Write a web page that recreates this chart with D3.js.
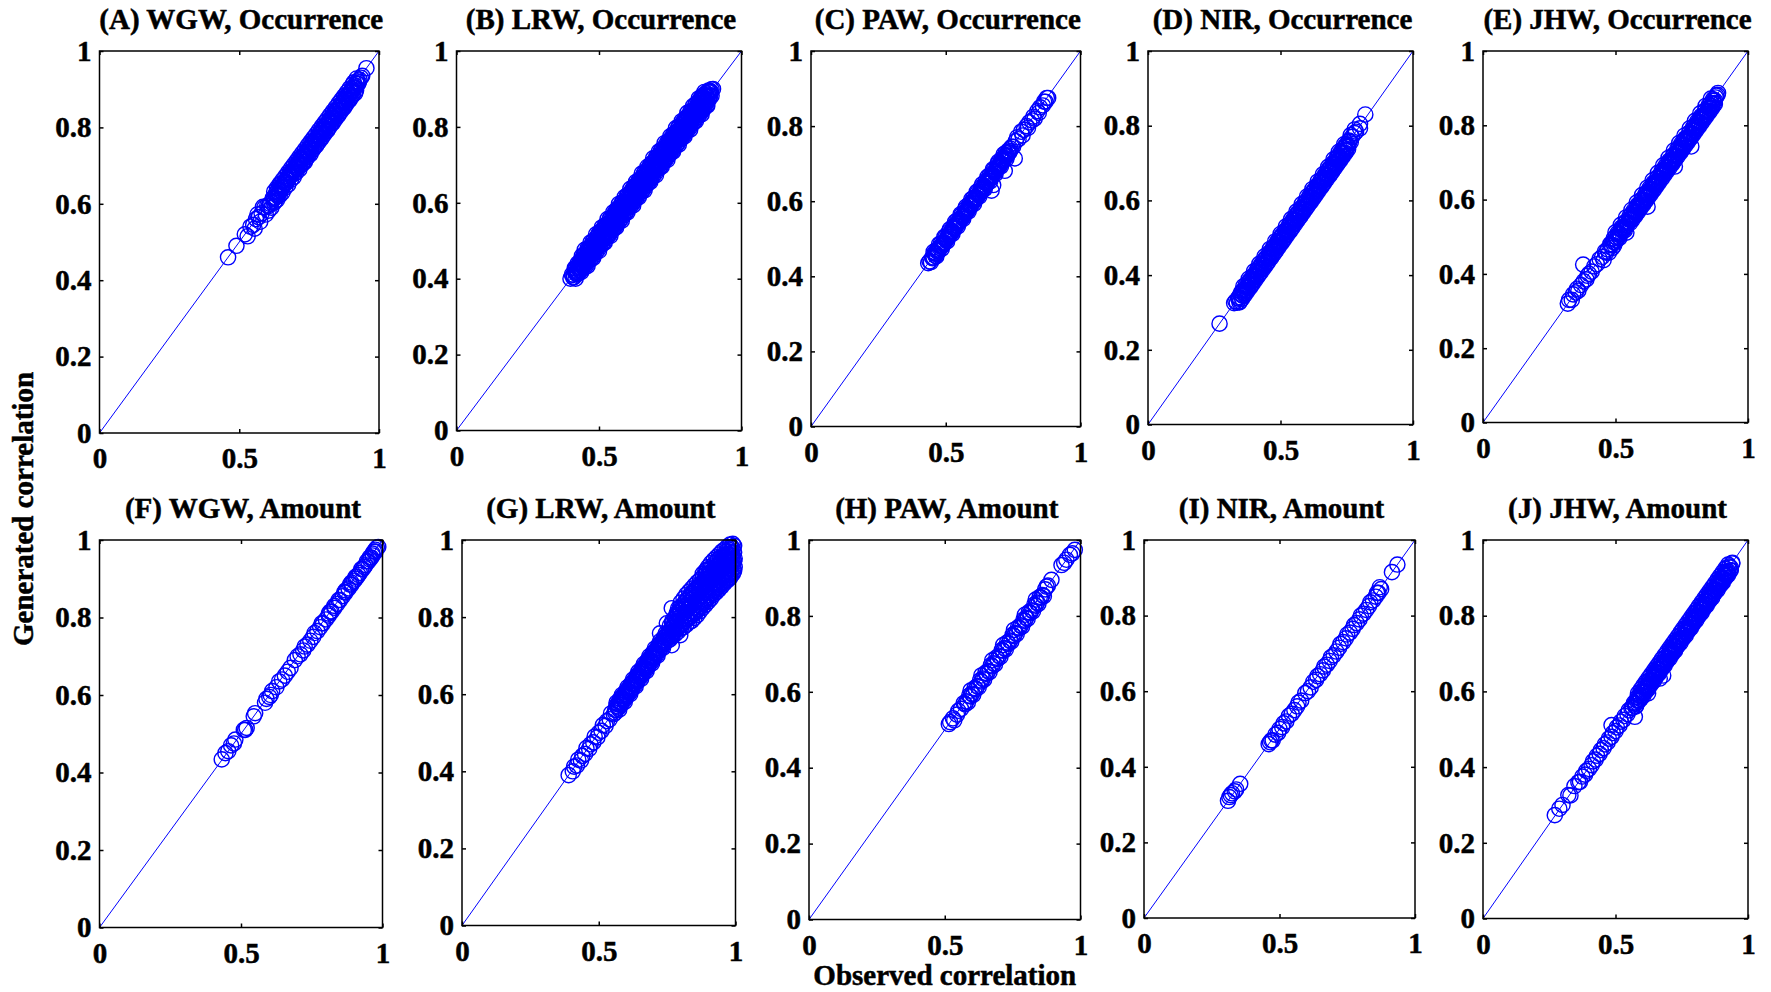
<!DOCTYPE html>
<html>
<head>
<meta charset="utf-8">
<script src="https://cdn.jsdelivr.net/npm/d3@7"></script>
<style>
  html, body { margin: 0; padding: 0; background: #fff; }
  svg { display: block; }
</style>
</head>
<body>
<svg id="fig" width="1771" height="992"></svg>
<script>
// ---- tick values and labels ----
const xTicks = [0, 0.5, 1];
const xTickLabels = ["0", "0.5", "1"];
const yTicks = [0, 0.2, 0.4, 0.6, 0.8, 1];
const yTickLabels = ["0", "0.2", "0.4", "0.6", "0.8", "1"];

const panelTitles = [
  "(A) WGW, Occurrence", "(B) LRW, Occurrence", "(C) PAW, Occurrence",
  "(D) NIR, Occurrence", "(E) JHW, Occurrence",
  "(F) WGW, Amount", "(G) LRW, Amount", "(H) PAW, Amount",
  "(I) NIR, Amount", "(J) JHW, Amount"
];
const xAxisTitle = "Observed correlation";
const yAxisTitle = "Generated correlation";

// ---- [observed, generated] correlation pairs ----
const occWGW = [
  [.46,.46],[.49,.49],[.52,.52],[.53,.515],
  [.54,.54],[.55,.545],[.56,.56],[.57,.565],[.58,.575],[.59,.59],[.60,.595],[.61,.60],[.62,.615],[.63,.625],
  [.64,.64],[.65,.645],[.66,.655],[.67,.665],[.68,.68],[.69,.685],[.70,.695],[.71,.705],[.72,.72],[.73,.725],
  [.74,.735],[.75,.745],[.76,.76],[.77,.765],[.78,.775],[.79,.785],[.80,.80],[.81,.805],[.82,.815],[.83,.825],
  [.84,.84],[.85,.845],[.86,.855],[.87,.865],[.88,.88],[.89,.885],[.90,.895],[.91,.905],[.92,.915],[.93,.925],
  [.555,.535],[.575,.553],[.595,.572],[.605,.582],[.615,.59],[.625,.603],[.635,.61],[.645,.622],[.655,.63],
  [.665,.643],[.675,.65],[.685,.663],[.695,.67],[.705,.683],[.715,.69],[.725,.703],[.735,.71],[.745,.723],
  [.755,.73],[.765,.743],[.775,.752],[.785,.763],[.795,.772],[.805,.783],[.815,.792],[.825,.803],[.835,.812],
  [.845,.823],[.855,.832],[.865,.843],[.875,.852],[.885,.863],[.895,.872],[.905,.883],[.915,.89],
  [.565,.572],[.585,.592],[.625,.632],[.645,.652],[.665,.672],[.685,.692],[.705,.712],[.725,.732],[.745,.752],
  [.765,.772],[.785,.792],[.805,.812],[.825,.832],[.845,.852],[.865,.872],[.885,.892],[.905,.912],[.92,.928],
  [.605,.594],[.615,.604],[.625,.614],[.635,.624],[.645,.634],[.655,.644],[.665,.654],[.675,.664],[.685,.674],
  [.695,.684],[.705,.694],[.715,.704],[.725,.714],[.735,.724],[.745,.734],[.755,.744],[.765,.754],[.775,.764],
  [.785,.774],[.795,.784],[.805,.794],[.815,.804],[.825,.814],[.835,.824],[.845,.834],[.855,.844],[.865,.854],
  [.875,.864],[.885,.874],[.895,.884],[.905,.894],[.915,.904],[.925,.914],
  [.635,.642],[.655,.662],[.675,.682],[.695,.702],[.715,.722],[.735,.742],[.755,.762],[.775,.782],[.795,.802],
  [.815,.822],[.835,.842],[.855,.862],[.875,.882],[.895,.902],[.91,.918],
  [.623,.612],[.628,.607],[.633,.63],[.638,.62],[.643,.628],[.648,.651],[.653,.64],[.658,.648],[.663,.661],
  [.668,.655],[.673,.668],[.678,.671],[.683,.676],[.688,.68],[.693,.69],[.698,.679],[.703,.701],[.708,.692],
  [.713,.71],[.718,.70],[.723,.721],[.728,.709],[.733,.73],[.738,.717],[.743,.741],[.748,.729],[.753,.75],
  [.758,.738],[.763,.761],[.768,.749],[.773,.77],[.778,.757],[.783,.781],[.788,.769],[.793,.79],[.798,.777],
  [.803,.801],[.808,.789],[.813,.81],[.818,.797],[.823,.821],[.828,.809],[.833,.83],[.838,.817],[.843,.841],
  [.848,.829],[.853,.85],[.858,.837],[.863,.861],[.868,.849],[.873,.87],[.878,.857],[.883,.881],[.888,.869],
  [.893,.89],[.898,.877],[.903,.901],[.908,.889],[.913,.91],[.918,.897],[.923,.921],[.928,.918],
  [.935,.93],[.94,.935],[.955,.955]
];

const occLRW = [
  [.40,.40],[.41,.41],[.42,.418],[.43,.43],[.44,.442],[.45,.448],[.46,.46],[.47,.472],[.48,.478],[.49,.49],
  [.50,.502],[.51,.508],[.52,.52],[.53,.532],[.54,.538],[.55,.55],[.56,.562],[.57,.568],[.58,.58],[.59,.592],
  [.60,.598],[.61,.61],[.62,.622],[.63,.628],[.64,.64],[.65,.652],[.66,.658],[.67,.67],[.68,.682],[.69,.688],
  [.70,.70],[.71,.712],[.72,.718],[.73,.73],[.74,.742],[.75,.748],[.76,.76],[.77,.772],[.78,.778],[.79,.79],
  [.80,.802],[.81,.808],[.82,.82],[.83,.832],[.84,.838],[.85,.85],[.86,.862],[.87,.868],[.88,.88],[.89,.892],[.90,.90],
  [.415,.428],[.425,.44],[.435,.447],[.445,.459],[.455,.469],[.465,.478],[.475,.489],[.485,.497],[.495,.509],
  [.505,.519],[.515,.528],[.525,.539],[.535,.547],[.545,.559],[.555,.569],[.565,.578],[.575,.589],[.585,.597],
  [.595,.609],[.605,.619],[.615,.628],[.625,.639],[.635,.647],[.645,.659],[.655,.669],[.665,.678],[.675,.689],
  [.685,.697],[.695,.709],[.705,.719],[.715,.728],[.725,.739],[.735,.747],[.745,.759],[.755,.769],[.765,.778],
  [.775,.789],[.785,.797],[.795,.809],[.805,.819],[.815,.828],[.825,.839],[.835,.847],[.845,.859],[.855,.869],
  [.865,.878],[.875,.889],[.885,.896],
  [.425,.412],[.435,.421],[.445,.433],[.455,.441],[.465,.452],[.475,.463],[.485,.471],[.495,.483],[.505,.491],
  [.515,.502],[.525,.513],[.535,.521],[.545,.533],[.555,.541],[.565,.552],[.575,.563],[.585,.571],[.595,.583],
  [.605,.591],[.615,.602],[.625,.613],[.635,.621],[.645,.633],[.655,.641],[.665,.652],[.675,.663],[.685,.671],
  [.695,.683],[.705,.691],[.715,.702],[.725,.713],[.735,.721],[.745,.733],[.755,.741],[.765,.752],[.775,.763],
  [.785,.771],[.795,.783],[.805,.791],[.815,.802],[.825,.813],[.835,.821],[.845,.833],[.855,.841],[.865,.852],
  [.875,.863],[.885,.871],[.895,.882],
  [.45,.476],[.47,.495],[.49,.517],[.51,.535],[.53,.557],[.55,.575],[.57,.597],[.59,.615],[.61,.637],[.63,.655],
  [.65,.677],[.67,.695],[.69,.717],[.71,.735],[.73,.757],[.75,.775],[.77,.797],[.79,.815],[.81,.837],[.83,.855],
  [.85,.875],[.87,.892],
  [.46,.434],[.48,.455],[.50,.473],[.52,.495],[.54,.513],[.56,.535],[.58,.553],[.60,.575],[.62,.593],[.64,.615],
  [.66,.633],[.68,.655],[.70,.673],[.72,.695],[.74,.713],[.76,.735],[.78,.753],[.80,.775],[.82,.793],[.84,.815],
  [.86,.833],[.88,.856],
  [.405,.411],[.415,.421],[.425,.431],[.435,.441],[.445,.451],[.455,.461],[.465,.471],[.475,.481],[.485,.491],
  [.495,.501],[.505,.511],[.515,.521],[.525,.531],[.535,.541],[.545,.551],[.555,.561],[.565,.571],[.575,.581],
  [.585,.591],[.595,.601],[.605,.611],[.615,.621],[.625,.631],[.635,.641],[.645,.651],[.655,.661],[.665,.671],
  [.675,.681],[.685,.691],[.695,.701],[.705,.711],[.715,.721],[.725,.731],[.735,.741],[.745,.751],[.755,.761],
  [.765,.771],[.775,.781],[.785,.791],[.795,.801],[.805,.811],[.815,.821],[.825,.831],[.835,.841],[.845,.851],
  [.855,.861],[.865,.871],[.875,.881],[.885,.891],[.895,.899],
  [.41,.403],[.42,.413],[.43,.423],[.44,.433],[.45,.443],[.46,.453],[.47,.463],[.48,.473],[.49,.483],[.50,.493],
  [.51,.503],[.52,.513],[.53,.523],[.54,.533],[.55,.543],[.56,.553],[.57,.563],[.58,.573],[.59,.583],[.60,.593],
  [.61,.603],[.62,.613],[.63,.623],[.64,.633],[.65,.643],[.66,.653],[.67,.663],[.68,.673],[.69,.683],[.70,.693],
  [.71,.703],[.72,.713],[.73,.723],[.74,.733],[.75,.743],[.76,.753],[.77,.763],[.78,.773],[.79,.783],[.80,.793],
  [.81,.803],[.82,.813],[.83,.823],[.84,.833],[.85,.843],[.86,.853],[.87,.863],[.88,.873],[.89,.883],
  [.44,.46],[.46,.48],[.48,.50],[.50,.52],[.52,.54],[.54,.56],[.56,.58],[.58,.60],[.60,.62],[.62,.64],[.64,.66],
  [.66,.68],[.68,.70],[.70,.72],[.72,.74],[.74,.76],[.76,.78],[.78,.80],[.80,.82],[.82,.84],[.84,.86],[.86,.88],
  [.45,.43],[.47,.45],[.49,.47],[.51,.49],[.53,.51],[.55,.53],[.57,.55],[.59,.57],[.61,.59],[.63,.61],[.65,.63],
  [.67,.65],[.69,.67],[.71,.69],[.73,.71],[.75,.73],[.77,.75],[.79,.77],[.81,.79],[.83,.81],[.85,.83],[.87,.85],
  [.413,.405],[.417,.427],[.423,.421],[.427,.414],[.433,.444],[.437,.437],[.443,.431],[.447,.463],[.453,.45],
  [.457,.446],[.463,.478],[.467,.462],[.473,.467],[.477,.496],[.483,.481],[.487,.476],[.493,.511],[.497,.494],
  [.503,.487],[.507,.526],[.513,.51],[.517,.505],[.523,.541],[.527,.525],[.533,.516],[.537,.556],[.543,.54],
  [.547,.535],[.553,.571],[.557,.555],[.563,.545],[.567,.586],[.573,.571],[.577,.565],[.583,.601],[.587,.585],
  [.593,.575],[.597,.616],[.603,.60],[.607,.594],[.613,.631],[.617,.615],[.623,.604],[.627,.646],[.633,.63],
  [.637,.624],[.643,.661],[.647,.645],[.653,.634],[.657,.676],[.663,.66],[.667,.654],[.673,.691],[.677,.675],
  [.683,.664],[.687,.706],[.693,.69],[.697,.684],[.703,.721],[.707,.705],[.713,.694],[.717,.736],[.723,.72],
  [.727,.714],[.733,.751],[.737,.735],[.743,.724],[.747,.766],[.753,.75],[.757,.744],[.763,.781],[.767,.765],
  [.773,.754],[.777,.796],[.783,.78],[.787,.774],[.793,.811],[.797,.795],[.803,.784],[.807,.826],[.813,.81],
  [.817,.804],[.823,.841],[.827,.825],[.833,.814],[.837,.856],[.843,.84],[.847,.834],[.853,.871],[.857,.855],
  [.863,.844],[.867,.884],[.873,.87],[.877,.864],[.883,.885],[.887,.878],[.893,.893],
  [.418,.40],[.428,.434],[.438,.418],[.448,.454],[.458,.438],[.468,.475],[.478,.458],[.488,.495],[.498,.478],
  [.508,.515],[.518,.498],[.528,.536],[.538,.518],[.548,.556],[.558,.538],[.568,.576],[.578,.558],[.588,.597],
  [.598,.578],[.608,.616],[.618,.598],[.628,.637],[.638,.618],[.648,.656],[.658,.638],[.668,.677],[.678,.658],
  [.688,.696],[.698,.678],[.708,.717],[.718,.698],[.728,.736],[.738,.718],[.748,.757],[.758,.738],[.768,.776],
  [.778,.758],[.788,.797],[.798,.778],[.808,.816],[.818,.798],[.828,.837],[.838,.818],[.848,.856],[.858,.838],
  [.868,.877],[.878,.858],[.888,.895]
];

const occPAW = [
  [.435,.435],[.44,.44],[.445,.438],[.45,.45],
  [.46,.46],[.47,.468],[.48,.48],[.49,.49],[.50,.498],[.51,.51],[.52,.52],[.53,.528],[.54,.54],[.55,.55],
  [.56,.558],[.57,.57],[.58,.58],[.59,.588],[.60,.60],[.61,.61],[.62,.618],[.63,.63],[.64,.64],[.65,.648],
  [.66,.66],[.67,.67],[.68,.678],[.69,.69],[.70,.70],[.71,.708],[.72,.72],[.73,.73],
  [.455,.465],[.475,.485],[.495,.505],[.515,.525],[.535,.545],[.555,.565],[.575,.585],[.595,.605],[.615,.625],
  [.635,.645],[.655,.665],[.675,.685],[.695,.705],[.715,.725],
  [.465,.453],[.485,.473],[.505,.493],[.525,.513],[.545,.533],[.565,.553],[.585,.573],[.605,.593],[.625,.613],
  [.645,.633],[.665,.653],[.685,.673],[.705,.693],[.725,.713],
  [.455,.45],[.465,.46],[.475,.47],[.485,.48],[.495,.49],[.505,.50],[.515,.51],[.525,.52],[.535,.53],[.545,.54],
  [.555,.55],[.565,.56],[.575,.57],[.585,.58],[.595,.59],[.605,.60],[.615,.61],[.625,.62],[.635,.63],[.645,.64],
  [.655,.65],[.665,.66],[.675,.67],[.685,.68],[.695,.69],[.705,.70],[.715,.71],[.725,.72],[.735,.73],[.745,.745],
  [.452,.448],[.458,.462],[.462,.455],[.468,.472],[.472,.466],[.478,.475],[.482,.488],[.488,.482],[.492,.487],
  [.498,.503],[.502,.496],[.508,.505],[.512,.518],[.518,.512],[.522,.517],[.528,.533],[.532,.526],[.538,.535],
  [.542,.548],[.548,.542],[.552,.547],[.558,.563],[.562,.556],[.568,.565],[.572,.578],[.578,.572],[.582,.577],
  [.588,.593],[.592,.586],[.598,.595],[.602,.608],[.608,.602],[.612,.607],[.618,.623],[.622,.616],[.628,.625],
  [.632,.638],[.638,.632],[.642,.637],[.648,.653],[.652,.646],[.658,.655],[.662,.668],[.668,.662],[.672,.667],
  [.678,.683],[.682,.676],[.688,.685],[.692,.698],[.698,.692],[.702,.697],[.708,.713],[.712,.706],[.718,.715],
  [.722,.728],[.728,.722],[.732,.735],[.738,.733],
  [.74,.74],[.75,.745],[.76,.76],[.765,.77],[.77,.765],[.78,.785],[.785,.775],[.79,.79],[.80,.80],[.805,.795],
  [.81,.81],[.82,.815],[.825,.825],[.83,.82],[.84,.84],[.845,.835],[.85,.85],[.86,.855],[.865,.865],[.87,.865],
  [.875,.875],[.88,.875],
  [.67,.628],[.676,.643],[.719,.681],[.756,.714]
];

const occNIR = [
  [.27,.27],
  [.325,.325],[.33,.33],[.34,.338],[.35,.35],[.36,.36],[.37,.368],[.38,.38],[.39,.39],[.40,.398],[.41,.41],
  [.42,.42],[.43,.428],[.44,.44],[.45,.45],[.46,.458],[.47,.47],[.48,.48],[.49,.488],[.50,.50],[.51,.51],
  [.52,.518],[.53,.53],[.54,.54],[.55,.548],[.56,.56],[.57,.57],[.58,.578],[.59,.59],[.60,.60],[.61,.608],
  [.62,.62],[.63,.63],[.64,.638],[.65,.65],[.66,.66],[.67,.668],[.68,.68],[.69,.69],[.70,.698],[.71,.71],
  [.72,.72],[.73,.728],[.74,.74],[.75,.75],[.76,.758],[.77,.77],[.78,.78],
  [.345,.327],[.355,.337],[.365,.347],[.375,.357],[.385,.367],[.395,.377],[.405,.387],[.415,.397],[.425,.407],
  [.435,.417],[.445,.427],[.455,.437],[.465,.447],[.475,.457],[.485,.467],[.495,.477],[.505,.487],[.515,.497],
  [.525,.507],[.535,.517],[.545,.527],[.555,.537],[.565,.547],[.575,.557],[.585,.567],[.595,.577],[.605,.587],
  [.615,.597],[.625,.607],[.635,.617],[.645,.627],[.655,.637],[.665,.647],[.675,.657],[.685,.667],[.695,.677],
  [.705,.687],[.715,.697],[.725,.707],[.735,.717],[.745,.727],[.755,.737],
  [.36,.37],[.38,.39],[.40,.41],[.42,.43],[.44,.45],[.46,.47],[.48,.49],[.50,.51],[.52,.53],[.54,.55],
  [.56,.57],[.58,.59],[.60,.61],[.62,.63],[.64,.65],[.66,.67],[.68,.69],[.70,.71],[.72,.73],[.74,.75],
  [.335,.326],[.345,.336],[.355,.346],[.365,.356],[.375,.366],[.385,.376],[.395,.386],[.405,.396],[.415,.406],
  [.425,.416],[.435,.426],[.445,.436],[.455,.446],[.465,.456],[.475,.466],[.485,.476],[.495,.486],[.505,.496],
  [.515,.506],[.525,.516],[.535,.526],[.545,.536],[.555,.546],[.565,.556],[.575,.566],[.585,.576],[.595,.586],
  [.605,.596],[.615,.606],[.625,.616],[.635,.626],[.645,.636],[.655,.646],[.665,.656],[.675,.666],[.685,.676],
  [.695,.686],[.705,.696],[.715,.706],[.725,.716],[.735,.726],[.745,.736],[.755,.746],[.765,.756],
  [.343,.341],[.348,.33],[.353,.355],[.358,.345],[.363,.352],[.368,.372],[.373,.36],[.378,.368],[.383,.385],
  [.388,.372],[.393,.383],[.398,.40],[.403,.39],[.408,.398],[.413,.416],[.418,.402],[.423,.413],[.428,.43],
  [.433,.42],[.438,.428],[.443,.445],[.448,.432],[.453,.443],[.458,.46],[.463,.45],[.468,.458],[.473,.475],
  [.478,.462],[.483,.473],[.488,.49],[.493,.48],[.498,.488],[.503,.505],[.508,.492],[.513,.503],[.518,.52],
  [.523,.51],[.528,.518],[.533,.535],[.538,.522],[.543,.533],[.548,.55],[.553,.54],[.558,.548],[.563,.565],
  [.568,.552],[.573,.563],[.578,.58],[.583,.57],[.588,.578],[.593,.595],[.598,.582],[.603,.593],[.608,.61],
  [.613,.60],[.618,.608],[.623,.625],[.628,.612],[.633,.623],[.638,.64],[.643,.63],[.648,.638],[.653,.655],
  [.658,.642],[.663,.653],[.668,.67],[.673,.66],[.678,.668],[.683,.685],[.688,.672],[.693,.683],[.698,.70],
  [.703,.69],[.708,.698],[.713,.715],[.718,.702],[.723,.713],[.728,.73],[.733,.72],[.738,.728],[.743,.745],
  [.748,.732],[.753,.743],[.758,.76],
  [.765,.775],[.78,.79],[.785,.784],[.80,.793],[.80,.805],[.82,.83]
];

const occJHW = [
  [.32,.32],[.325,.33],[.335,.33],[.34,.345],[.35,.35],[.355,.36],[.36,.355],[.37,.37],[.378,.425],[.38,.38],
  [.39,.385],[.395,.395],
  [.40,.40],[.41,.406],[.42,.42],[.43,.426],[.44,.44],[.45,.446],[.46,.46],[.47,.466],[.48,.48],[.49,.486],
  [.50,.50],[.51,.506],[.52,.52],[.53,.526],[.54,.54],[.55,.546],[.56,.56],[.57,.566],[.58,.58],[.59,.586],
  [.60,.60],[.61,.606],[.62,.62],[.63,.626],[.64,.64],[.65,.646],[.66,.66],[.67,.666],[.68,.68],[.69,.686],
  [.70,.70],[.71,.706],[.72,.72],[.73,.726],[.74,.74],[.75,.746],[.76,.76],[.77,.766],[.78,.78],[.79,.786],
  [.80,.80],[.81,.806],[.82,.82],[.83,.826],[.84,.84],[.85,.846],[.86,.86],[.87,.866],[.88,.88],
  [.455,.437],[.475,.457],[.495,.477],[.515,.497],[.535,.517],[.555,.537],[.565,.547],[.575,.557],[.585,.567],
  [.595,.577],[.605,.587],[.615,.597],[.625,.607],[.635,.617],[.645,.627],[.655,.637],[.665,.647],[.675,.657],
  [.685,.667],[.695,.677],[.705,.687],[.715,.697],[.725,.707],[.735,.717],[.745,.727],[.755,.737],[.765,.747],
  [.775,.757],[.785,.767],[.795,.777],[.805,.787],[.815,.797],[.825,.807],[.835,.817],[.845,.827],[.855,.837],
  [.865,.847],[.875,.857],
  [.50,.512],[.52,.532],[.54,.552],[.56,.572],[.58,.592],[.60,.612],[.62,.632],[.64,.652],[.66,.672],[.68,.692],
  [.70,.712],[.72,.732],[.74,.752],[.76,.772],[.78,.792],[.80,.812],[.82,.832],[.84,.852],[.86,.872],
  [.465,.457],[.485,.477],[.505,.497],[.515,.507],[.525,.517],[.535,.527],[.545,.537],[.555,.547],[.565,.557],
  [.575,.567],[.585,.577],[.595,.587],[.605,.597],[.615,.607],[.625,.617],[.635,.627],[.645,.637],[.655,.647],
  [.665,.657],[.675,.667],[.685,.677],[.695,.687],[.705,.697],[.715,.707],[.725,.717],[.735,.727],[.745,.737],
  [.755,.747],[.765,.757],[.775,.767],[.785,.777],[.795,.787],[.805,.797],[.815,.807],[.825,.817],[.835,.827],
  [.845,.837],[.855,.847],[.865,.857],[.875,.867],
  [.483,.478],[.488,.47],[.493,.495],[.498,.485],[.503,.49],[.508,.51],[.513,.50],[.518,.508],[.523,.525],
  [.528,.515],[.533,.522],[.538,.54],[.543,.53],[.548,.538],[.553,.555],[.558,.545],[.563,.552],[.568,.57],
  [.573,.56],[.578,.568],[.583,.585],[.588,.575],[.593,.582],[.598,.60],[.603,.59],[.608,.598],[.613,.615],
  [.618,.605],[.623,.612],[.628,.63],[.633,.62],[.638,.628],[.643,.645],[.648,.635],[.653,.642],[.658,.66],
  [.663,.65],[.668,.658],[.673,.675],[.678,.665],[.683,.672],[.688,.69],[.693,.68],[.698,.688],[.703,.705],
  [.708,.695],[.713,.702],[.718,.72],[.723,.71],[.728,.718],[.733,.735],[.738,.725],[.743,.732],[.748,.75],
  [.753,.74],[.758,.748],[.763,.765],[.768,.755],[.773,.762],[.778,.78],[.783,.77],[.788,.778],[.793,.795],
  [.798,.785],[.803,.792],[.808,.81],[.813,.80],[.818,.808],[.823,.825],[.828,.815],[.833,.822],[.838,.84],
  [.843,.83],[.848,.838],[.853,.855],[.858,.845],[.863,.852],[.868,.87],[.873,.86],[.878,.875],
  [.541,.511],[.621,.581],[.724,.689],[.786,.743],
  [.885,.882],[.887,.887]
];

const amtWGW = [
  [.432,.434],[.445,.45],[.455,.455],[.465,.47],[.475,.475],[.48,.485],
  [.51,.51],[.515,.51],[.52,.515],[.545,.545],[.55,.553],
  [.585,.58],[.59,.59],[.60,.595],[.605,.60],[.61,.61],[.625,.62],[.635,.635],[.645,.64],[.655,.65],[.665,.66],
  [.675,.67],[.69,.69],[.70,.70],[.71,.705],[.72,.715],[.725,.725],[.735,.73],[.745,.74],[.755,.75],[.76,.76],
  [.77,.765],[.78,.775],[.785,.785],[.79,.785],[.80,.795],[.81,.805],[.815,.815],[.82,.815],[.83,.825],
  [.84,.835],[.845,.845],[.85,.845],[.86,.855],[.865,.865],[.87,.865],[.88,.875],[.885,.885],[.89,.885],
  [.90,.895],[.905,.905],[.91,.905],[.92,.915],[.925,.925],[.93,.925],[.94,.935],[.945,.945],[.95,.945],
  [.955,.955],[.96,.955],[.965,.96],[.97,.97],[.975,.97],[.98,.98],
  [.81,.81],[.83,.83],[.87,.87],[.89,.89],[.905,.90],[.915,.91],[.935,.93],[.955,.95],[.965,.965],
  [.975,.975],[.985,.982]
];

const amtLRW = [
  [.39,.39],[.405,.40],[.41,.412],[.42,.415],[.425,.43],[.435,.428],[.44,.44],[.45,.445],[.455,.46],[.465,.458],
  [.47,.47],[.48,.475],[.485,.49],[.495,.488],[.50,.50],[.51,.505],[.515,.52],[.525,.518],[.53,.53],[.54,.535],
  [.545,.55],[.555,.548],
  [.56,.56],[.57,.568],[.58,.58],[.59,.588],[.60,.60],[.61,.608],[.62,.62],[.63,.628],[.64,.64],[.65,.648],
  [.66,.66],[.67,.668],[.68,.68],[.69,.688],[.70,.70],[.71,.708],[.72,.72],[.73,.728],[.74,.74],[.75,.748],
  [.565,.578],[.585,.598],[.605,.618],[.625,.638],[.645,.658],[.665,.678],[.685,.698],[.705,.718],[.725,.738],[.745,.758],
  [.575,.56],[.595,.58],[.615,.60],[.635,.62],[.655,.64],[.675,.66],[.695,.68],[.715,.70],[.735,.72],[.755,.74],
  [.565,.57],[.575,.58],[.585,.59],[.595,.60],[.605,.61],[.615,.62],[.625,.63],[.635,.64],[.645,.65],[.655,.66],
  [.665,.67],[.675,.68],[.685,.69],[.695,.70],[.705,.71],[.715,.72],[.725,.73],[.735,.74],[.745,.75],[.755,.758],
  [.56,.552],[.58,.572],[.60,.592],[.62,.612],[.64,.632],[.66,.652],[.68,.672],[.70,.692],[.72,.712],[.74,.732],
  [.563,.558],[.568,.574],[.573,.565],[.578,.588],[.583,.576],[.588,.595],[.593,.584],[.598,.607],[.603,.596],
  [.608,.614],[.613,.604],[.618,.627],[.623,.616],[.628,.634],[.633,.624],[.638,.647],[.643,.636],[.648,.654],
  [.653,.644],[.658,.667],[.663,.656],[.668,.674],[.673,.664],[.678,.687],[.683,.676],[.688,.694],[.693,.684],
  [.698,.707],[.703,.696],[.708,.714],[.713,.704],[.718,.727],[.723,.716],[.728,.734],[.733,.724],[.738,.747],
  [.743,.736],[.748,.754],[.753,.744],
  [.724,.758],[.749,.784],[.767,.823],[.798,.753],[.767,.727],
  [.76,.742],[.76,.76],[.76,.778],[.77,.75],[.77,.772],[.77,.792],[.78,.756],[.78,.778],[.78,.80],
  [.79,.762],[.79,.786],[.79,.81],[.79,.822],[.80,.77],[.80,.792],[.80,.815],[.80,.838],
  [.81,.774],[.81,.798],[.81,.822],[.81,.848],[.82,.78],[.82,.805],[.82,.83],[.82,.858],
  [.83,.786],[.83,.81],[.83,.838],[.83,.866],[.84,.79],[.84,.816],[.84,.845],[.84,.874],
  [.85,.798],[.85,.824],[.85,.852],[.85,.882],[.86,.805],[.86,.832],[.86,.86],[.86,.89],
  [.87,.815],[.87,.84],[.87,.868],[.87,.896],[.88,.824],[.88,.848],[.88,.876],[.88,.904],[.88,.912],
  [.89,.832],[.89,.856],[.89,.882],[.89,.91],[.89,.92],[.90,.84],[.90,.864],[.90,.888],[.90,.912],[.90,.93],
  [.91,.848],[.91,.872],[.91,.895],[.91,.918],[.91,.94],[.92,.858],[.92,.88],[.92,.902],[.92,.925],[.92,.948],
  [.93,.865],[.93,.887],[.93,.91],[.93,.932],[.93,.955],[.94,.872],[.94,.895],[.94,.918],[.94,.94],[.94,.962],
  [.95,.88],[.95,.902],[.95,.925],[.95,.948],[.95,.97],[.96,.888],[.96,.91],[.96,.932],[.96,.955],[.96,.975],
  [.97,.895],[.97,.918],[.97,.94],[.97,.962],[.97,.982],[.98,.902],[.98,.925],[.98,.948],[.98,.97],[.98,.988],
  [.99,.912],[.99,.935],[.99,.958],[.99,.978],[.99,.99],[.995,.92],[.995,.945],[.995,.968],[.995,.985],
  [.765,.75],[.765,.77],[.775,.76],[.775,.782],[.785,.768],[.785,.79],[.785,.81],[.795,.775],[.795,.80],[.795,.822],
  [.805,.782],[.805,.806],[.805,.83],[.815,.788],[.815,.812],[.815,.838],[.825,.795],[.825,.82],[.825,.845],
  [.835,.80],[.835,.828],[.835,.855],[.845,.806],[.845,.835],[.845,.862],[.855,.812],[.855,.84],[.855,.87],
  [.865,.82],[.865,.848],[.865,.876],[.875,.828],[.875,.856],[.875,.884],[.885,.836],[.885,.864],[.885,.892],
  [.895,.845],[.895,.872],[.895,.90],[.895,.922],[.905,.852],[.905,.878],[.905,.90],[.905,.925],
  [.915,.862],[.915,.885],[.915,.908],[.915,.932],[.925,.868],[.925,.892],[.925,.915],[.925,.94],
  [.935,.875],[.935,.90],[.935,.922],[.935,.948],[.945,.882],[.945,.906],[.945,.93],[.945,.955],
  [.955,.89],[.955,.914],[.955,.938],[.955,.96],[.965,.895],[.965,.92],[.965,.945],[.965,.97],
  [.975,.902],[.975,.928],[.975,.952],[.975,.975],[.985,.91],[.985,.935],[.985,.96],[.985,.982],
  [.762,.752],[.768,.785],[.772,.762],[.778,.79],[.782,.77],[.788,.805],[.792,.778],[.798,.818],[.802,.782],
  [.808,.826],[.812,.79],[.818,.842],[.822,.797],[.828,.85],[.832,.802],[.838,.86],[.842,.81],[.848,.868],
  [.852,.815],[.858,.876],[.862,.822],[.868,.884],[.872,.83],[.878,.89],[.882,.838],[.888,.898],[.892,.846],
  [.898,.905],[.902,.856],[.908,.915],[.912,.862],[.918,.922],[.922,.87],[.928,.93],[.932,.878],[.938,.936],
  [.942,.886],[.948,.942],[.952,.892],[.958,.95],[.962,.90],[.968,.958],[.972,.908],[.978,.962],[.982,.916],
  [.988,.968],[.992,.925],[.997,.952],[.997,.93],
  [.83,.827],[.845,.85],[.86,.845],[.875,.87],[.89,.87],[.90,.90],[.915,.895],[.925,.925],[.935,.912],
  [.945,.942],[.955,.925],[.965,.955],[.975,.94],[.985,.965],[.99,.945]
];

const amtPAW = [
  [.515,.515],[.52,.52],[.53,.53],[.535,.525],[.545,.54],[.55,.55],[.56,.555],
  [.57,.57],[.58,.575],[.59,.59],[.60,.595],[.61,.61],[.62,.615],[.63,.63],[.64,.635],[.65,.65],[.66,.655],
  [.67,.67],[.68,.675],[.69,.69],[.70,.695],[.71,.71],[.72,.715],[.73,.73],[.74,.735],[.75,.75],[.76,.755],
  [.77,.77],[.78,.775],[.79,.79],[.80,.795],[.81,.81],[.82,.815],[.83,.83],[.84,.835],[.85,.85],[.86,.855],[.87,.87],
  [.585,.572],[.605,.592],[.625,.612],[.645,.632],[.665,.652],[.685,.672],[.705,.692],[.725,.712],[.745,.732],
  [.765,.752],[.785,.772],[.805,.792],[.825,.812],[.845,.832],[.865,.852],
  [.595,.603],[.635,.643],[.675,.683],[.715,.723],[.755,.763],[.795,.803],[.835,.843],
  [.575,.567],[.595,.588],[.615,.607],[.635,.627],[.655,.648],[.675,.667],[.695,.687],[.715,.708],[.735,.727],
  [.755,.747],[.775,.768],[.795,.787],[.815,.808],[.835,.827],[.855,.848],
  [.875,.877],[.88,.88],[.893,.895],[.93,.934],[.94,.94],[.948,.948],[.961,.961],[.97,.965],[.979,.974]
];

const amtNIR = [
  [.31,.31],[.315,.32],[.32,.325],[.325,.33],[.335,.335],[.34,.34],[.355,.355],
  [.46,.46],[.465,.465],[.47,.47],[.475,.47],[.485,.485],[.495,.49],[.50,.50],[.51,.505],[.515,.515],[.525,.52],
  [.535,.535],[.545,.54],[.555,.55],[.565,.56],[.57,.57],[.58,.575],[.595,.595],[.605,.60],[.615,.61],[.625,.625],
  [.635,.63],[.64,.64],[.65,.645],[.66,.655],[.665,.665],[.675,.67],[.685,.68],[.69,.69],[.70,.695],[.71,.705],
  [.72,.715],[.725,.725],[.735,.73],[.745,.74],[.75,.75],[.76,.755],[.77,.765],[.775,.775],[.785,.78],[.795,.79],
  [.80,.80],[.81,.805],[.82,.815],[.83,.825],[.835,.835],[.845,.84],[.855,.85],[.86,.86],[.865,.86],[.87,.875],
  [.875,.87],[.915,.915],[.935,.935]
];

const amtJHW = [
  [.271,.273],[.288,.29],[.30,.30],[.322,.326],[.33,.325],[.345,.35],[.36,.36],[.366,.361],[.375,.375],[.385,.38],
  [.39,.39],[.40,.395],[.41,.405],[.415,.415],[.425,.42],[.43,.43],[.44,.435],[.445,.445],[.455,.45],[.46,.46],
  [.47,.465],[.475,.475],[.485,.511],[.485,.48],[.49,.49],[.50,.495],[.505,.505],[.515,.51],[.52,.52],[.53,.525],
  [.535,.535],[.545,.54],[.55,.55],
  [.56,.556],[.57,.57],[.58,.576],[.59,.59],[.60,.596],[.61,.61],[.62,.616],[.63,.63],[.64,.636],[.65,.65],
  [.66,.656],[.67,.67],[.68,.676],[.69,.69],[.70,.696],[.71,.71],[.72,.716],[.73,.73],[.74,.736],[.75,.75],
  [.76,.756],[.77,.77],[.78,.776],[.79,.79],[.80,.796],[.81,.81],[.82,.816],[.83,.83],[.84,.836],[.85,.85],
  [.86,.856],[.87,.87],[.88,.876],[.89,.89],[.90,.896],[.91,.91],[.92,.916],[.93,.93],[.94,.938],
  [.575,.56],[.595,.58],[.605,.588],[.615,.60],[.625,.608],[.635,.62],[.645,.628],[.655,.64],[.665,.648],
  [.675,.66],[.685,.668],[.695,.68],[.705,.688],[.715,.70],[.725,.708],[.735,.72],[.745,.728],[.755,.74],
  [.765,.748],[.775,.76],[.785,.768],[.795,.78],[.805,.788],[.815,.80],[.825,.808],[.835,.82],[.845,.828],
  [.855,.84],[.865,.848],[.875,.86],[.885,.868],[.895,.88],[.905,.888],[.915,.90],[.925,.908],[.935,.92],
  [.585,.595],[.605,.615],[.625,.635],[.645,.655],[.665,.675],[.685,.695],[.705,.715],[.725,.735],[.745,.755],
  [.765,.775],[.785,.795],[.805,.815],[.825,.835],[.845,.855],[.865,.875],[.885,.895],[.905,.915],[.925,.935],
  [.565,.557],[.575,.567],[.585,.577],[.595,.587],[.605,.597],[.615,.607],[.625,.617],[.635,.627],[.645,.637],
  [.655,.647],[.665,.657],[.675,.667],[.685,.677],[.695,.687],[.705,.697],[.715,.707],[.725,.717],[.735,.727],
  [.745,.737],[.755,.747],[.765,.757],[.775,.767],[.785,.777],[.795,.787],[.805,.797],[.815,.807],[.825,.817],
  [.835,.827],[.845,.837],[.855,.847],[.865,.857],[.875,.867],[.885,.877],[.895,.887],[.905,.897],[.915,.907],
  [.925,.917],[.935,.927],
  [.595,.605],[.615,.625],[.635,.645],[.655,.665],[.675,.685],[.695,.705],[.715,.725],[.735,.745],[.755,.765],
  [.775,.785],[.795,.805],[.815,.825],[.835,.845],[.855,.865],[.875,.885],[.895,.905],[.915,.925],
  [.573,.568],[.578,.562],[.583,.585],[.588,.575],[.593,.58],[.598,.60],[.603,.59],[.608,.598],[.613,.615],
  [.618,.605],[.623,.612],[.628,.63],[.633,.62],[.638,.628],[.643,.645],[.648,.635],[.653,.642],[.658,.66],
  [.663,.65],[.668,.658],[.673,.675],[.678,.665],[.683,.672],[.688,.69],[.693,.68],[.698,.688],[.703,.705],
  [.708,.695],[.713,.702],[.718,.72],[.723,.71],[.728,.718],[.733,.735],[.738,.725],[.743,.732],[.748,.75],
  [.753,.74],[.758,.748],[.763,.765],[.768,.755],[.773,.762],[.778,.78],[.783,.77],[.788,.778],[.793,.795],
  [.798,.785],[.803,.792],[.808,.81],[.813,.80],[.818,.808],[.823,.825],[.828,.815],[.833,.822],[.838,.84],
  [.843,.83],[.848,.838],[.853,.855],[.858,.845],[.863,.852],[.868,.87],[.873,.86],[.878,.868],[.883,.885],
  [.888,.875],[.893,.882],[.898,.90],[.903,.89],[.908,.898],[.913,.915],[.918,.905],[.923,.912],[.928,.93],
  [.933,.92],
  [.573,.533],[.623,.595],[.667,.634],[.68,.642],[.941,.94]
];

const panelData = [occWGW, occLRW, occPAW, occNIR, occJHW, amtWGW, amtLRW, amtPAW, amtNIR, amtJHW];

// ---- layout: plot box of each panel [left, top, right, bottom] in px ----
const panelBoxes = [
  [99.5, 51, 379, 433], [456.5, 51, 741.5, 430.5], [811, 51, 1080.5, 426.5],
  [1148, 51, 1413, 424.5], [1483, 51, 1748, 422.5],
  [99.5, 540, 382.5, 927.5], [462, 540, 735.5, 925.5], [809, 540, 1080.5, 919.5],
  [1144, 540, 1415, 918], [1483, 540, 1748, 918.5]
];

const FONT = '"Liberation Serif", "Times New Roman", Times, serif';
const FONT_SIZE = 29;
const TEXT_STROKE = 0.5;
const BLUE = "#0000ff";
const TICK_LEN = 4;
const MARKER_R = 7.6;
const MARKER_W = 1.4;

const svg = d3.select("#fig");
svg.append("rect").attr("width", 1771).attr("height", 992).attr("fill", "#fff");

function boldText(sel) {
  sel.attr("font-family", FONT).attr("font-size", FONT_SIZE).attr("font-weight", "bold")
    .attr("fill", "#000").attr("stroke", "#000").attr("stroke-width", TEXT_STROKE);
}

function styleAxis(sel) {
  sel.select(".domain").remove();
  sel.attr("font-family", FONT).attr("font-size", FONT_SIZE).attr("font-weight", "bold");
  sel.selectAll(".tick line").attr("stroke", "#000").attr("stroke-width", 1.5);
  sel.selectAll(".tick text").call(boldText);
}

panelData.forEach((data, i) => {
  const [x0, y0, x1, y1] = panelBoxes[i];
  const x = d3.scaleLinear().domain([0, 1]).range([x0, x1]);
  const y = d3.scaleLinear().domain([0, 1]).range([y1, y0]);
  const g = svg.append("g").attr("class", "panel");

  // scatter of open circles
  g.append("g")
    .selectAll("circle")
    .data(data)
    .join("circle")
    .attr("cx", d => x(d[0]))
    .attr("cy", d => y(d[1]))
    .attr("r", MARKER_R)
    .attr("fill", "none")
    .attr("stroke", BLUE)
    .attr("stroke-width", MARKER_W);

  // 1:1 reference line
  g.append("line")
    .attr("x1", x(0)).attr("y1", y(0))
    .attr("x2", x(1)).attr("y2", y(1))
    .attr("stroke", BLUE).attr("stroke-width", 1);

  // axes with inward ticks on all four sides
  g.append("g").attr("transform", `translate(0,${y1})`)
    .call(d3.axisBottom(x).tickValues(xTicks).tickFormat((d, k) => xTickLabels[k])
      .tickSizeInner(-TICK_LEN).tickSizeOuter(0).tickPadding(14.5))
    .call(styleAxis);
  g.append("g").attr("transform", `translate(0,${y0})`)
    .call(d3.axisTop(x).tickValues(xTicks).tickFormat("")
      .tickSizeInner(-TICK_LEN).tickSizeOuter(0))
    .call(styleAxis);
  g.append("g").attr("transform", `translate(${x0},0)`)
    .call(d3.axisLeft(y).tickValues(yTicks).tickFormat((d, k) => yTickLabels[k])
      .tickSizeInner(-TICK_LEN).tickSizeOuter(0).tickPadding(8))
    .call(styleAxis);
  g.append("g").attr("transform", `translate(${x1},0)`)
    .call(d3.axisRight(y).tickValues(yTicks).tickFormat("")
      .tickSizeInner(-TICK_LEN).tickSizeOuter(0))
    .call(styleAxis);

  // box
  g.append("rect")
    .attr("x", x0).attr("y", y0)
    .attr("width", x1 - x0).attr("height", y1 - y0)
    .attr("fill", "none").attr("stroke", "#000").attr("stroke-width", 1.5);

  // panel title
  g.append("text")
    .attr("x", (x0 + x1) / 2 + 2).attr("y", y0 - 22)
    .attr("text-anchor", "middle")
    .call(boldText)
    .text(panelTitles[i]);
});

// shared axis titles
const hBox = panelBoxes[7];
svg.append("text")
  .attr("x", (hBox[0] + hBox[2]) / 2).attr("y", 985)
  .attr("text-anchor", "middle")
  .call(boldText)
  .text(xAxisTitle);

svg.append("text")
  .attr("transform", "translate(33,509) rotate(-90)")
  .attr("text-anchor", "middle")
  .call(boldText)
  .text(yAxisTitle);
</script>
</body>
</html>
